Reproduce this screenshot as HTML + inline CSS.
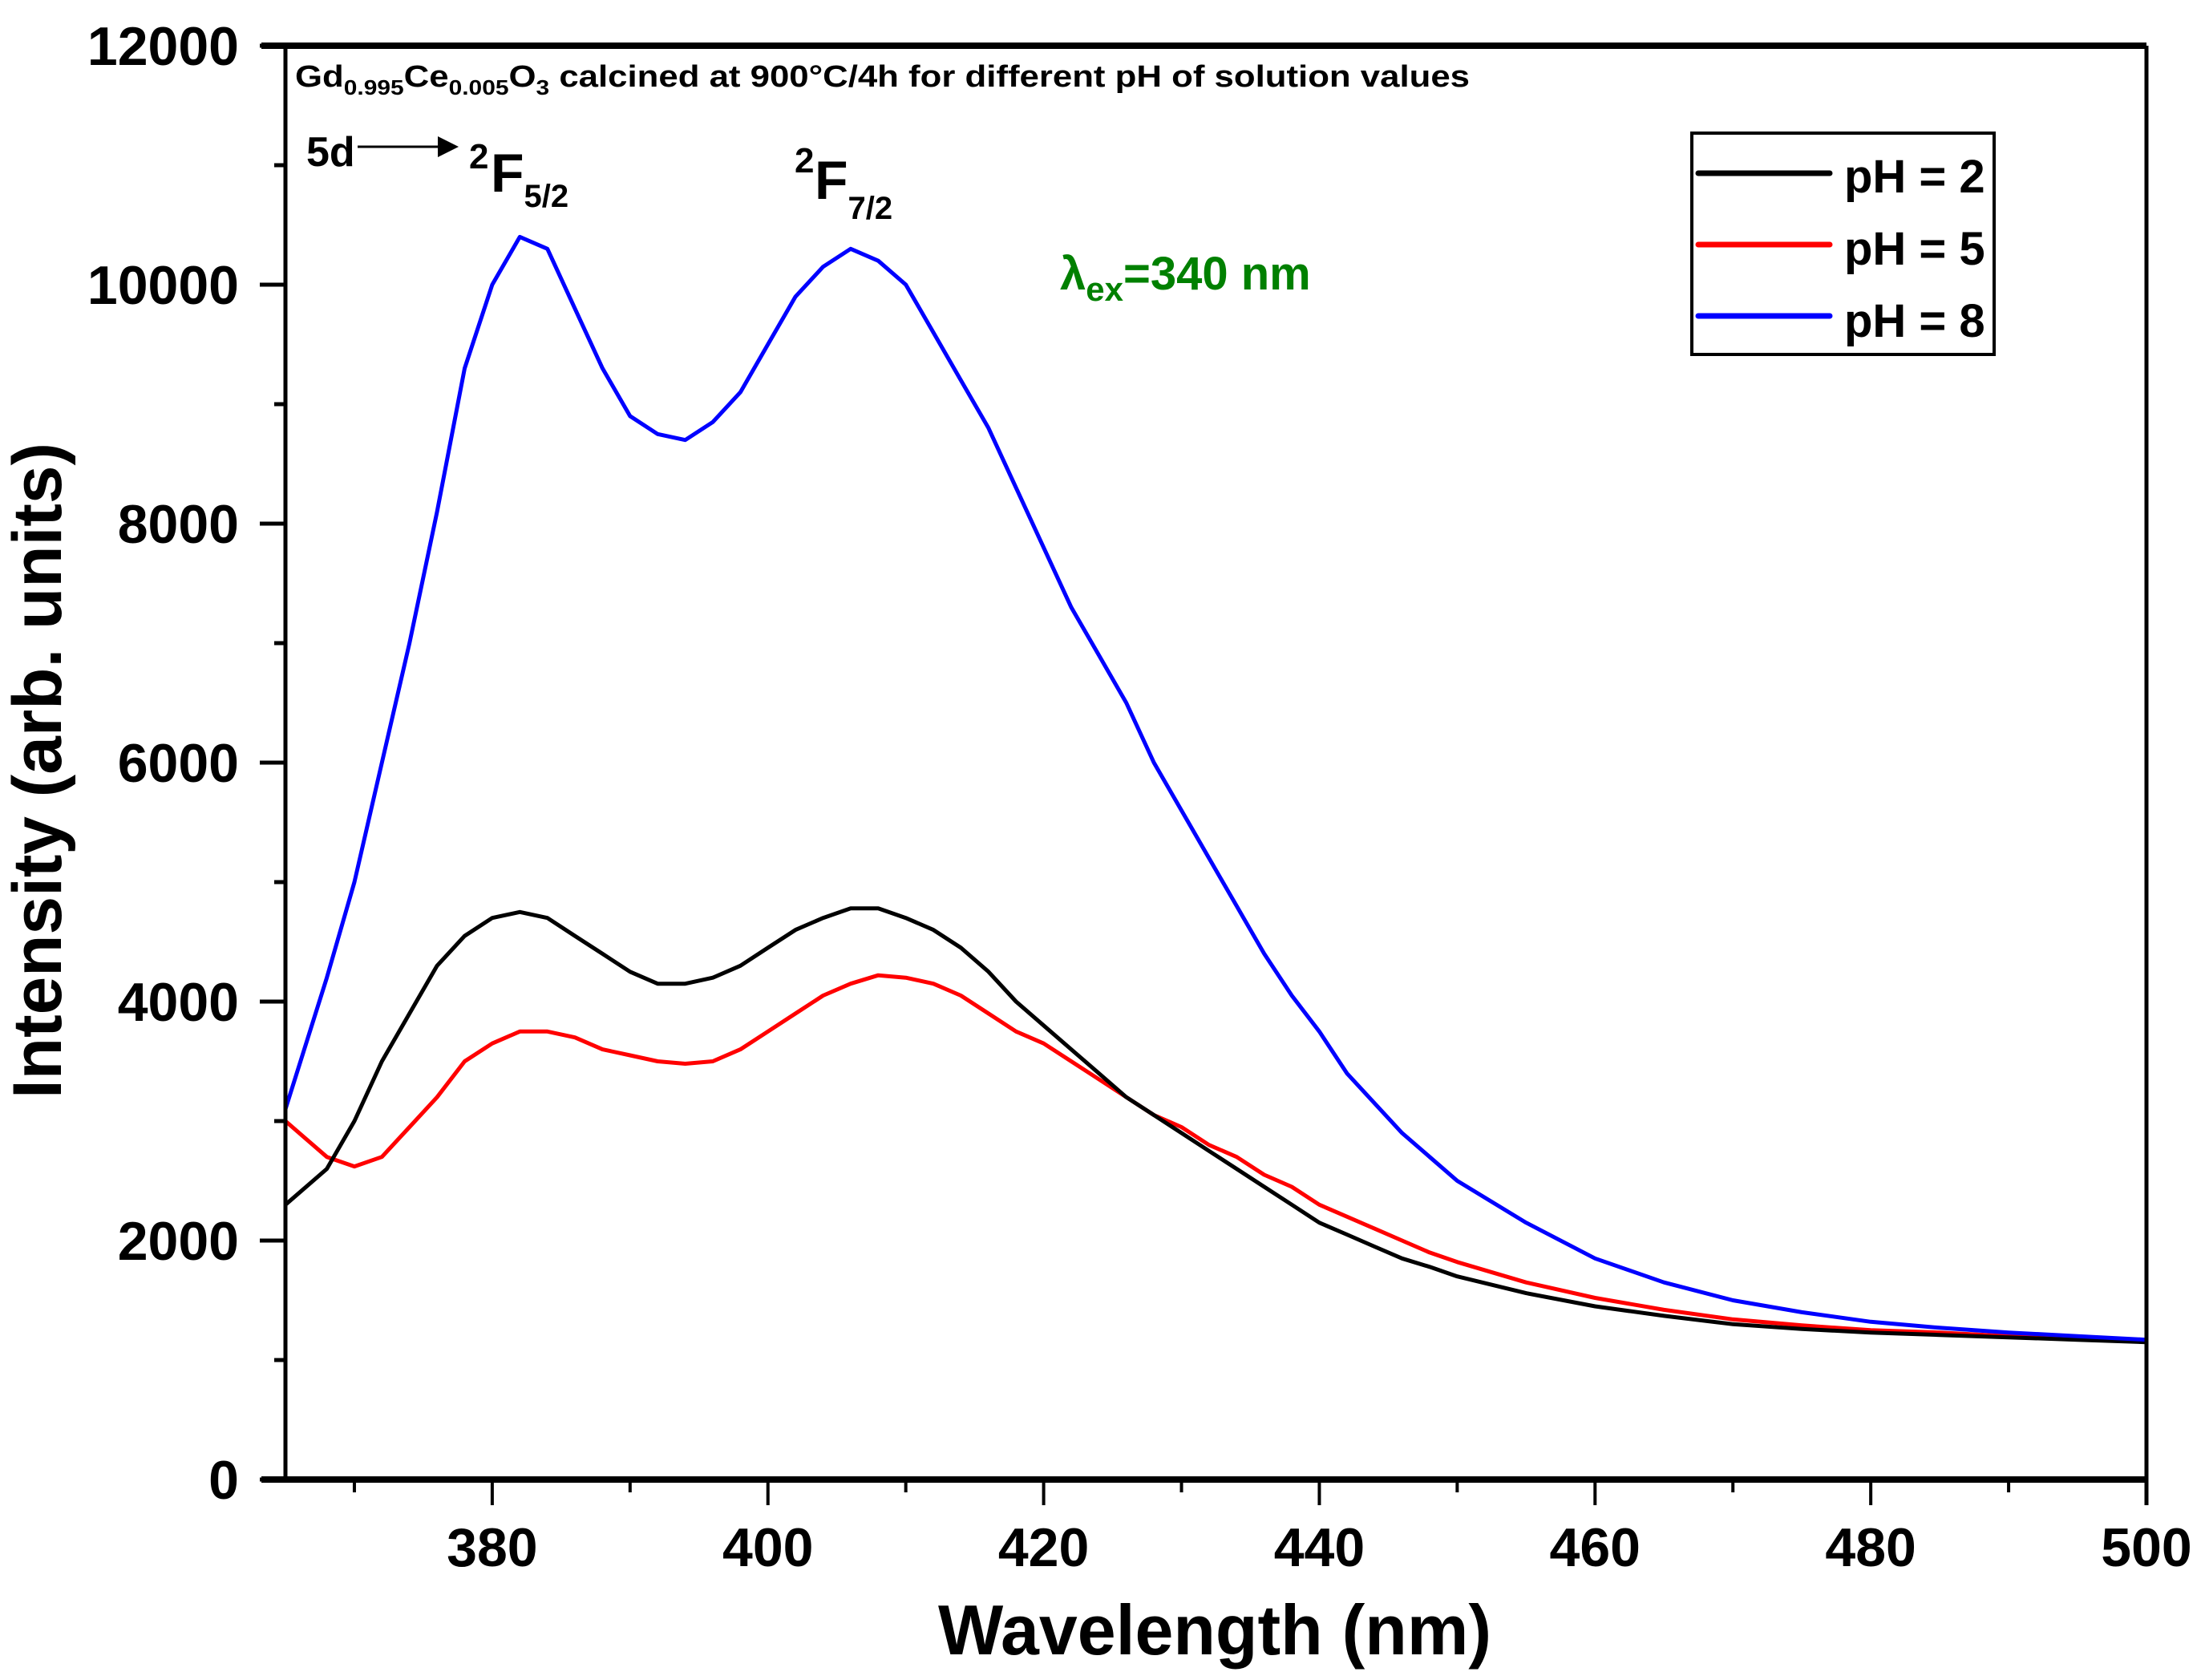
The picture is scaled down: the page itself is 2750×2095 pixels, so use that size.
<!DOCTYPE html>
<html><head><meta charset="utf-8"><style>
html,body{margin:0;padding:0;background:#fff;}
svg{display:block;}
text{font-family:"Liberation Sans",Arial,sans-serif;font-weight:bold;}
</style></head><body>
<svg id="chart" width="2750" height="2095" viewBox="0 0 2750 2095" xmlns="http://www.w3.org/2000/svg">
<rect x="0" y="0" width="2750" height="2095" fill="#fff"/>
<g id="series"></g>
<g id="axes"></g>
<text x="368" y="108" font-size="38" fill="#000" textLength="1465" lengthAdjust="spacingAndGlyphs">Gd<tspan font-size="26" dy="10">0.995</tspan><tspan dy="-10">Ce</tspan><tspan font-size="26" dy="10">0.005</tspan><tspan dy="-10">O</tspan><tspan font-size="26" dy="10">3</tspan><tspan dy="-10"> calcined at 900°C/4h for different pH of solution values</tspan></text>
<text x="382" y="207" font-size="52" fill="#000">5d</text>
<line x1="446" y1="183" x2="548" y2="183" stroke="#000" stroke-width="3"/>
<polygon points="546,170 572,183 546,196" fill="#000"/>
<text x="585" y="210" font-size="44" fill="#000">2</text>
<text x="612" y="239" font-size="68" fill="#000">F<tspan font-size="40" dy="19">5/2</tspan></text>
<text x="991" y="215" font-size="44" fill="#000">2</text>
<text x="1016" y="248" font-size="68" fill="#000">F<tspan font-size="40" dy="25">7/2</tspan></text>
<text x="1322" y="361" font-size="58" fill="#008000">λ<tspan font-size="42" dy="14">ex</tspan><tspan dy="-14">=340 nm</tspan></text>
<g>
<rect x="2110" y="166" width="377" height="276" fill="#fff" stroke="#000" stroke-width="4"/>
<line x1="2118" y1="216" x2="2282" y2="216" stroke="#000" stroke-width="7" stroke-linecap="round"/>
<text x="2300" y="240" font-size="58">pH = 2</text>
<line x1="2118" y1="305" x2="2282" y2="305" stroke="#f00" stroke-width="7" stroke-linecap="round"/>
<text x="2300" y="330" font-size="58">pH = 5</text>
<line x1="2118" y1="394" x2="2282" y2="394" stroke="#00f" stroke-width="7" stroke-linecap="round"/>
<text x="2300" y="420" font-size="58">pH = 8</text>
</g>
<text x="1515" y="2063" font-size="88" text-anchor="middle" textLength="690" lengthAdjust="spacingAndGlyphs">Wavelength (nm)</text>
<text transform="translate(76,961) rotate(-90)" x="0" y="0" font-size="86" text-anchor="middle" textLength="818" lengthAdjust="spacingAndGlyphs">Intensity (arb. units)</text>
</svg>
<script>
const wavelengths = [365,368,370,372,374,376,378,380,382,384,386,388,390,392,394,396,398,400,402,404,406,408,410,412,414,416,418,420,422,424,426,428,430,432,434,436,438,440,442,444,446,448,450,455,460,465,470,475,480,485,490,495,500];
const ph2Values = [2300,2600,3000,3500,3900,4300,4550,4700,4750,4700,4550,4400,4250,4150,4150,4200,4300,4450,4600,4700,4780,4780,4700,4600,4450,4250,4000,3800,3600,3400,3200,3050,2900,2750,2600,2450,2300,2150,2050,1950,1850,1780,1700,1560,1450,1370,1300,1260,1230,1210,1190,1170,1150];
const ph5Values = [3000,2700,2620,2700,2950,3200,3500,3650,3750,3750,3700,3600,3550,3500,3480,3500,3600,3750,3900,4050,4150,4220,4200,4150,4050,3900,3750,3650,3500,3350,3200,3050,2950,2800,2700,2550,2450,2300,2200,2100,2000,1900,1820,1650,1520,1420,1340,1290,1250,1230,1200,1180,1160];
const ph8Values = [3100,4200,5000,6000,7000,8100,9300,10000,10400,10300,9800,9300,8900,8750,8700,8850,9100,9500,9900,10150,10300,10200,10000,9600,9200,8800,8300,7800,7300,6900,6500,6000,5600,5200,4800,4400,4050,3750,3400,3150,2900,2700,2500,2150,1850,1650,1500,1400,1320,1270,1230,1200,1170];
const xTickLabels = [380,400,420,440,460,480,500];
const yTickLabels = [0,2000,4000,6000,8000,10000,12000];

const NS = "http://www.w3.org/2000/svg";
const L = 356, R = 2677, T = 57, B = 1845;
const xMin = 365, xMax = 500, yMin = 0, yMax = 12000;
function xs(v){ return L + (v - xMin) / (xMax - xMin) * (R - L); }
function ys(v){ return B - (v - yMin) / (yMax - yMin) * (B - T); }
function mk(tag, attrs){ const e = document.createElementNS(NS, tag); for (const k in attrs) e.setAttribute(k, attrs[k]); return e; }

const series = document.getElementById('series');
function drawSeries(vals, color, name){
  let d = '';
  vals.forEach((v, i) => { d += (i ? 'L' : 'M') + xs(wavelengths[i]).toFixed(1) + ',' + ys(v).toFixed(1); });
  const p = mk('path', {d: d, fill: 'none', stroke: color, 'stroke-width': 5, 'stroke-linejoin': 'round'});
  
  
  series.appendChild(p);
}
drawSeries(ph5Values, '#f00', 'series-ph5');
drawSeries(ph2Values, '#000', 'series-ph2');
drawSeries(ph8Values, '#00f', 'series-ph8');

const axes = document.getElementById('axes');
function addLine(x1,y1,x2,y2,w,name){
  const l = mk('line', {x1:x1, y1:y1, x2:x2, y2:y2, stroke:'#000', 'stroke-width':w});
  
  
  axes.appendChild(l);
}
addLine(L-30, T, R, T, 8, 'top-axis-line');
addLine(L-30, B, R, B, 8, 'x-axis-line');
addLine(L, T, L, B, 5, 'y-axis-line');
addLine(R, T, R, B+32, 5, 'right-axis-line');
for (let v = 370; v <= 500; v += 10) {
  const major = v % 20 === 0;
  addLine(xs(v), B, xs(v), B + (major ? 32 : 16), 4, major ? 'x-major-tick' : 'x-minor-tick');
}
for (let v = 1000; v < 12000; v += 2000) addLine(L - 14, ys(v), L, ys(v), 5, 'y-minor-tick');
yTickLabels.forEach(v => {
  addLine(L - 32, ys(v), L, ys(v), 5, 'y-major-tick');
  const t = mk('text', {x: 298, y: ys(v) + 24, 'font-size': 68, 'text-anchor': 'end'});
  
  
  t.textContent = v;
  axes.appendChild(t);
});
xTickLabels.forEach(v => {
  const t = mk('text', {x: xs(v), y: 1953, 'font-size': 68, 'text-anchor': 'middle'});
  
  
  t.textContent = v;
  axes.appendChild(t);
});
</script>
</body></html>
